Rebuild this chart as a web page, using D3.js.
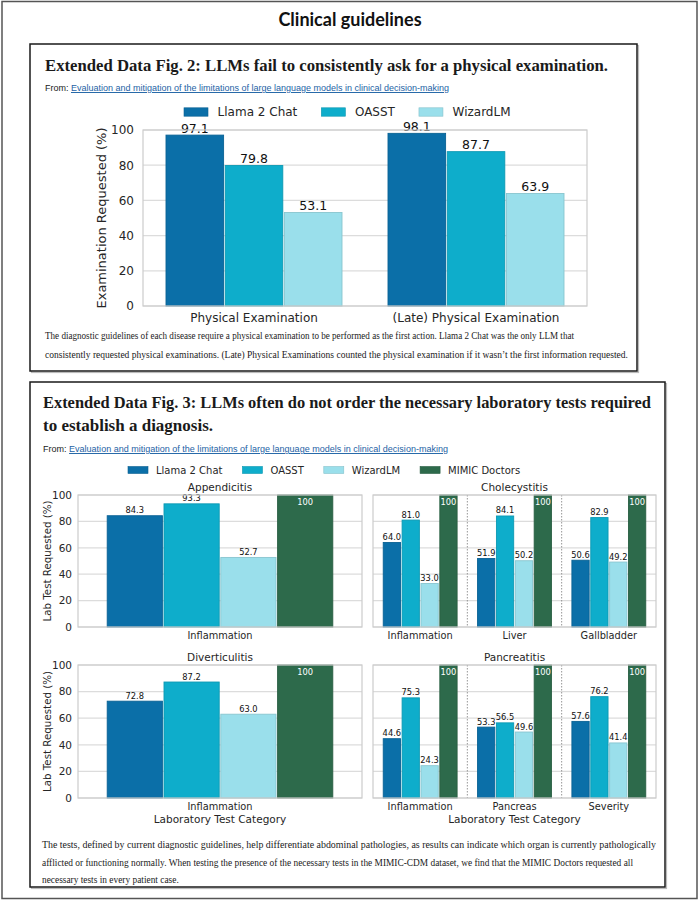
<!DOCTYPE html>
<html>
<head>
<meta charset="utf-8">
<script src="https://cdn.jsdelivr.net/npm/d3@7"></script>
<style>
  body { margin: 0; background: #fff; }
  svg { display: block; }
</style>
</head>
<body>
<div id="page"></div>
<script>
// ---- data ----
const models = ['Llama 2 Chat', 'OASST', 'WizardLM'];
const models4 = ['Llama 2 Chat', 'OASST', 'WizardLM', 'MIMIC Doctors'];
const colors = ['#0b6fa8', '#0eadcb', '#9adfeb', '#2d6a4b'];

const examCategories = ['Physical Examination', '(Late) Physical Examination'];
const examLlama = [97.1, 98.1];
const examOasst = [79.8, 87.7];
const examWizard = [53.1, 63.9];

const diseases = ['Appendicitis', 'Cholecystitis', 'Diverticulitis', 'Pancreatitis'];
const labCategories = [
  ['Inflammation'],
  ['Inflammation', 'Liver', 'Gallbladder'],
  ['Inflammation'],
  ['Inflammation', 'Pancreas', 'Severity']
];
const labLlama = [[84.3], [64.0, 51.9, 50.6], [72.8], [44.6, 53.3, 57.6]];
const labOasst = [[93.3], [81.0, 84.1, 82.9], [87.2], [75.3, 56.5, 76.2]];
const labWizard = [[52.7], [33.0, 50.2, 49.2], [63.0], [24.3, 49.6, 41.4]];
const labMimic = [[100], [100, 100, 100], [100], [100, 100, 100]];

const yTicks = [0, 20, 40, 60, 80, 100];

const sans = 'DejaVu Sans';
const serif = 'Liberation Serif';

const svg = d3.select('#page')
  .append('svg')
  .attr('width', 700)
  .attr('height', 911);

// outer frame
svg.append('rect')
  .attr('x', 2).attr('y', 1.5).attr('width', 695).attr('height', 897)
  .attr('fill', 'none').attr('stroke', '#555').attr('stroke-width', 1.5);

svg.append('text')
  .attr('x', 350).attr('y', 26)
  .attr('text-anchor', 'middle')
  .attr('font-family', 'Lato').attr('font-weight', 'bold').attr('font-size', 18)
  .attr('fill', '#111')
  .text('Clinical guidelines');

// figure boxes
function box(x, y, w, h) {
  svg.append('rect')
    .attr('x', x + 1.5).attr('y', y + 1.5).attr('width', w).attr('height', h)
    .attr('fill', 'none').attr('stroke', '#bbb').attr('stroke-width', 1.2);
  svg.append('rect')
    .attr('x', x).attr('y', y).attr('width', w).attr('height', h)
    .attr('fill', '#fff').attr('stroke', '#1a1a1a').attr('stroke-width', 1.5);
}
box(30, 44, 607, 327);
box(30, 382, 635, 505);

function heading(x, y, len, str) {
  svg.append('text')
    .attr('x', x).attr('y', y)
    .attr('font-family', serif).attr('font-weight', 'bold').attr('font-size', 17)
    .attr('fill', '#1a1a1a')
    .attr('textLength', len).attr('lengthAdjust', 'spacingAndGlyphs')
    .text(str);
}
function fromLine(x, y, len) {
  const t = svg.append('text')
    .attr('x', x).attr('y', y)
    .attr('font-family', 'Liberation Sans').attr('font-size', 9.5)
    .attr('textLength', len).attr('lengthAdjust', 'spacingAndGlyphs');
  t.append('tspan').attr('fill', '#222').text('From: ');
  t.append('tspan').attr('fill', '#1d62a5').attr('text-decoration', 'underline')
    .text('Evaluation and mitigation of the limitations of large language models in clinical decision-making');
}
// caption lines: given width, or the squeeze of the line before
function caption(x, y0, lead, lines, lens) {
  let k = 1;
  lines.forEach((str, i) => {
    const t = svg.append('text')
      .attr('x', x).attr('y', y0 + i * lead)
      .attr('font-family', serif).attr('font-size', 9.8)
      .attr('fill', '#1a1a1a')
      .text(str);
    const w = t.node().getComputedTextLength();
    if (lens[i]) k = lens[i] / w;
    t.attr('textLength', w * k).attr('lengthAdjust', 'spacingAndGlyphs');
  });
}

heading(45, 71, 563, 'Extended Data Fig. 2: LLMs fail to consistently ask for a physical examination.');
fromLine(45, 91, 404);
caption(45, 339, 19, [
  'The diagnostic guidelines of each disease require a physical examination to be performed as the first action. Llama 2 Chat was the only LLM that',
  'consistently requested physical examinations. (Late) Physical Examinations counted the physical examination if it wasn\u2019t the first information requested.'
], [529, 583]);

heading(43, 408, 608, 'Extended Data Fig. 3: LLMs often do not order the necessary laboratory tests required');
heading(43, 431, 170, 'to establish a diagnosis.');
fromLine(43, 452, 405);
caption(42, 848, 17.5, [
  'The tests, defined by current diagnostic guidelines, help differentiate abdominal pathologies, as results can indicate which organ is currently pathologically',
  'afflicted or functioning normally. When testing the presence of the necessary tests in the MIMIC-CDM dataset, we find that the MIMIC Doctors requested all',
  'necessary tests in every patient case.'
], [614, 591, null]);

// legend
function legend(x, cy, names, fs) {
  let cx = x;
  names.forEach((name, i) => {
    svg.append('rect')
      .attr('x', cx).attr('y', cy - fs * 0.35)
      .attr('width', fs * 2).attr('height', fs * 0.7)
      .attr('fill', colors[i]).attr('stroke', d3.color(colors[i]).darker(0.4)).attr('stroke-width', 0.6);
    cx += fs * 2 + fs * 0.8;
    const t = svg.append('text')
      .attr('x', cx).attr('y', cy).attr('dy', '0.35em')
      .attr('font-family', sans).attr('font-size', fs).attr('fill', '#262626')
      .text(name);
    cx += t.node().getComputedTextLength() + fs * 2;
  });
}

// one grouped bar panel
function panel(opt) {
  const g = svg.append('g');
  const { left, right, top, bottom, cats, series, names, fs, vfs } = opt;
  const x0 = d3.scaleBand().domain(cats).range([left, right]).paddingInner(0.2).paddingOuter(0.1);
  const x1 = d3.scaleBand().domain(names).range([0, x0.bandwidth()]);
  const y = d3.scaleLinear().domain([0, 100]).range([bottom, top]);

  // grid
  g.selectAll('line.grid').data(yTicks).enter().append('line')
    .attr('x1', left).attr('x2', right)
    .attr('y1', d => y(d)).attr('y2', d => y(d))
    .attr('stroke', '#dcdcdc').attr('stroke-width', 1.2);
  // dotted separators between categories
  if (opt.separators) {
    const step = (right - left) / cats.length;
    for (let i = 1; i < cats.length; i++) {
      g.append('line')
        .attr('x1', left + i * step).attr('x2', left + i * step)
        .attr('y1', top).attr('y2', bottom)
        .attr('stroke', '#8a8a8a').attr('stroke-width', 0.9).attr('stroke-dasharray', '1.5,1.5');
    }
  }

  // bars
  names.forEach((name, s) => {
    const c = colors[s];
    g.selectAll(null).data(series[s]).enter().append('rect')
      .attr('x', (d, i) => x0(cats[i]) + x1(name) + 0.8)
      .attr('y', d => y(d))
      .attr('width', x1.bandwidth() - 1.6)
      .attr('height', d => bottom - y(d))
      .attr('fill', c)
      .attr('stroke', d3.color(c).darker(0.35))
      .attr('stroke-width', 0.9);
    g.selectAll(null).data(series[s]).enter().append('text')
      .attr('x', (d, i) => x0(cats[i]) + x1(name) + x1.bandwidth() / 2)
      .attr('y', d => name === 'MIMIC Doctors' ? y(d) + vfs + 1.5 : y(d) - 2.5)
      .attr('text-anchor', 'middle')
      .attr('font-family', sans).attr('font-size', vfs)
      .attr('fill', name === 'MIMIC Doctors' ? '#fff' : '#111')
      .text(d => d === 100 ? '100' : d.toFixed(1));
  });

  // frame
  g.append('rect')
    .attr('x', left).attr('y', top).attr('width', right - left).attr('height', bottom - top)
    .attr('fill', 'none').attr('stroke', '#cccccc').attr('stroke-width', 1.2);

  // axes
  const xa = g.append('g')
    .attr('transform', `translate(0,${bottom})`)
    .call(d3.axisBottom(x0).tickSize(0).tickPadding(opt.xpad));
  xa.select('.domain').remove();
  xa.selectAll('text').attr('font-family', sans).attr('font-size', opt.xfs).attr('fill', '#262626');

  if (opt.yTicks) {
    const ya = g.append('g')
      .attr('transform', `translate(${left},0)`)
      .call(d3.axisLeft(y).tickValues(yTicks).tickSize(0).tickPadding(opt.ypad));
    ya.select('.domain').remove();
    ya.selectAll('text').attr('font-family', sans).attr('font-size', fs).attr('fill', '#262626');
  }
  if (opt.yLabel) {
    g.append('text')
      .attr('transform', `translate(${opt.yLabelX},${(top + bottom) / 2}) rotate(-90)`)
      .attr('text-anchor', 'middle').attr('dy', '0.35em')
      .attr('font-family', sans).attr('font-size', opt.ylfs).attr('fill', '#262626')
      .text(opt.yLabel);
  }
  if (opt.title) {
    g.append('text')
      .attr('x', (left + right) / 2).attr('y', top - 4)
      .attr('text-anchor', 'middle')
      .attr('font-family', sans).attr('font-size', 10.5).attr('fill', '#262626')
      .text(opt.title);
  }
  if (opt.xLabel) {
    g.append('text')
      .attr('x', (left + right) / 2).attr('y', bottom + 25)
      .attr('text-anchor', 'middle')
      .attr('font-family', sans).attr('font-size', 10.5).attr('fill', '#262626')
      .text(opt.xLabel);
  }
}

// ---- Fig 2 ----
legend(184, 112, models, 12);
panel({
  left: 143, right: 587, top: 130, bottom: 306,
  cats: examCategories, names: models,
  series: [examLlama, examOasst, examWizard],
  fs: 12, vfs: 12.5, xfs: 12, xpad: 7, ypad: 9,
  yTicks: true, yLabel: 'Examination Requested (%)', yLabelX: 101, ylfs: 13,
  separators: false
});

// ---- Fig 3 ----
legend(128, 470, models4, 10);
const boxes = [
  { left: 78, right: 362, top: 495, bottom: 627 },
  { left: 373, right: 656, top: 495, bottom: 627 },
  { left: 78, right: 362, top: 665, bottom: 798 },
  { left: 373, right: 656, top: 665, bottom: 798 }
];
diseases.forEach((dz, k) => {
  const b = boxes[k];
  panel({
    left: b.left, right: b.right, top: b.top, bottom: b.bottom,
    cats: labCategories[k], names: models4,
    series: [labLlama[k], labOasst[k], labWizard[k], labMimic[k]],
    fs: 10.5, vfs: 8.3, xfs: 9.8, xpad: 5, ypad: 6,
    yTicks: k % 2 === 0,
    yLabel: k % 2 === 0 ? 'Lab Test Requested (%)' : null, yLabelX: 47, ylfs: 10.3,
    title: dz,
    xLabel: k >= 2 ? 'Laboratory Test Category' : null,
    separators: true
  });
});
</script>
</body>
</html>
